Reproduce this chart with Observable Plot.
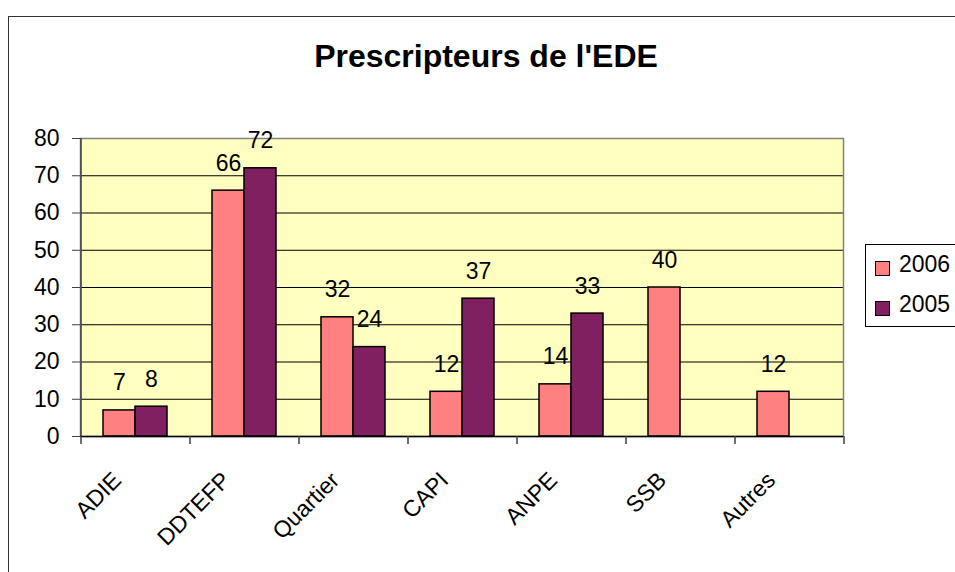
<!DOCTYPE html>
<html>
<head>
<meta charset="utf-8">
<script src="https://cdn.jsdelivr.net/npm/d3@7"></script>
<script src="https://cdn.jsdelivr.net/npm/@observablehq/plot@0.6"></script>
<style>
  html, body { margin: 0; padding: 0; background: #fff; }
  body { width: 955px; height: 572px; overflow: hidden; position: relative; font-family: "Liberation Sans", Arial, sans-serif; }
  #frame { position: absolute; left: 8px; top: 16px; width: 1000px; height: 700px; border: 1.5px solid #333; box-sizing: border-box; }
  #title { position: absolute; left: 0; top: 40px; width: 972px; text-align: center; font-weight: bold; font-size: 32px; line-height: 32px; color: #000; }
  #chart { position: absolute; left: 0; top: 100px; }
  #legend { position: absolute; left: 865px; top: 244px; width: 120px; height: 83px; border: 1px solid #000; box-sizing: border-box; background: #fff; }
  .sw { position: absolute; left: 9px; width: 15px; height: 15px; border: 1px solid #000; box-sizing: border-box; }
  .lt { position: absolute; left: 33px; font-size: 23px; line-height: 23px; color: #000; }
</style>
</head>
<body>
<div id="frame"></div>
<div id="title">Prescripteurs de l'EDE</div>
<div id="chart"></div>
<div id="legend"></div>
<script>
// ---- data ----
const categories = ["ADIE", "DDTEFP", "Quartier", "CAPI", "ANPE", "SSB", "Autres"];
const values2006 = [7, 66, 32, 12, 14, 40, 12];
const values2005 = [8, 72, 24, 37, 33, null, null];
const seriesNames = ["2006", "2005"];
const yTicks = [0, 10, 20, 30, 40, 50, 60, 70, 80];

const colors = {"2006": "#FF8080", "2005": "#802060"};

const rows2006 = categories.map((c, i) => ({category: c, value: values2006[i]})).filter(d => d.value != null);
const rows2005 = categories.map((c, i) => ({category: c, value: values2005[i]})).filter(d => d.value != null);

const W = 955, H = 472;
const mL = 80, mR = 112, mT = 38, mB = 136;
const step = (W - mL - mR) / categories.length;
const pIn = 0.413;
const bw = step * (1 - pIn);
const half = bw / 2;

const chart = Plot.plot({
  width: W, height: H,
  marginLeft: mL, marginRight: mR, marginTop: mT, marginBottom: mB,
  style: {fontFamily: "'Liberation Sans', Arial, sans-serif", fontSize: "23px", color: "#000", background: "transparent", overflow: "visible"},
  x: {type: "band", domain: categories, paddingInner: pIn, paddingOuter: pIn / 2, axis: null},
  y: {domain: [0, 80], label: null},
  marks: [
    Plot.frame({fill: "#FFFFC0", stroke: null}),
    Plot.ruleY(yTicks.filter(d => d > 0 && d < 80), {stroke: "#000", strokeWidth: 1}),
    Plot.frame({stroke: "#808080", strokeWidth: 1.5}),
    Plot.barY(rows2006, {x: "category", y: "value", fill: colors["2006"], stroke: "#000", strokeWidth: 1.5, insetRight: half}),
    Plot.barY(rows2005, {x: "category", y: "value", fill: colors["2005"], stroke: "#000", strokeWidth: 1.5, insetLeft: half}),
    Plot.text(rows2006, {x: "category", y: "value", text: d => String(d.value), dx: -half / 2, dy: -20, lineAnchor: "bottom", fontSize: 23, fill: "#000"}),
    Plot.text(rows2005, {x: "category", y: "value", text: d => String(d.value), dx: half / 2, dy: -20, lineAnchor: "bottom", fontSize: 23, fill: "#000"}),
    // left axis line
    Plot.ruleX([categories[0]], {dx: -step / 2, stroke: "#404040", strokeWidth: 1.5}),
    // x axis line
    Plot.ruleY([0], {stroke: "#000", strokeWidth: 1.5}),
    // x tick marks at band boundaries
    Plot.ruleX(categories, {x: d => d, y1: 0, y2: 0, insetBottom: -8, dx: -step / 2, stroke: "#404040", strokeWidth: 1.5}),
    Plot.ruleX([categories[categories.length - 1]], {y1: 0, y2: 0, insetBottom: -8, dx: step / 2, stroke: "#404040", strokeWidth: 1.5}),
    Plot.axisY({ticks: yTicks, tickSize: 8, tickPadding: 13, fontSize: 23, stroke: "#404040", label: null, tickFormat: d => String(d)}),
    Plot.text(categories, {x: d => d, frameAnchor: "bottom", text: d => d, rotate: -45, textAnchor: "end", lineAnchor: "middle", dy: 40, dx: -18, fontSize: 23, fill: "#000"})
  ]
});
chart.setAttribute("font-family", "'Liberation Sans', Arial, sans-serif");
document.getElementById("chart").appendChild(chart);

// legend
const legend = document.getElementById("legend");
seriesNames.forEach((name, i) => {
  const sw = document.createElement("div");
  sw.className = "sw";
  sw.style.top = (16 + i * 40) + "px";
  sw.style.background = colors[name];
  legend.appendChild(sw);
  const t = document.createElement("div");
  t.className = "lt";
  t.style.top = (8 + i * 40) + "px";
  t.textContent = name;
  legend.appendChild(t);
});
</script>
</body>
</html>
